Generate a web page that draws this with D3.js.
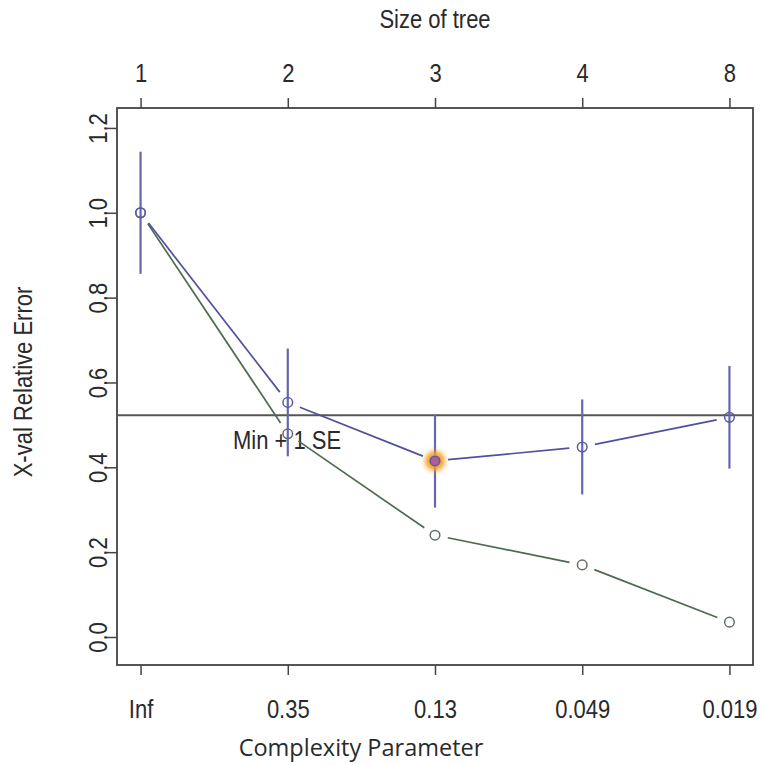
<!DOCTYPE html>
<html>
<head>
<meta charset="utf-8">
<script src="https://cdn.jsdelivr.net/npm/d3@7"></script>
<style>
  html, body { margin: 0; padding: 0; background: #fff; }
  svg { display: block; }
  text { font-family: "Liberation Sans", Arial, sans-serif; fill: #2a2a2a; }
</style>
</head>
<body>
<svg id="chart" width="762" height="765"></svg>
<script>
// ---- data ----
const cpLabels   = ["Inf", "0.35", "0.13", "0.049", "0.019"];
const treeSizes  = ["1", "2", "3", "4", "8"];
const xerror     = [1.0, 0.553, 0.415, 0.448, 0.518];
const xstd       = [0.144, 0.127, 0.110, 0.112, 0.121];
const relError   = [1.0, 0.479, 0.240, 0.170, 0.035];
const yTicks     = [0.0, 0.2, 0.4, 0.6, 0.8, 1.0, 1.2];
const minPlus1SE = 0.523;
const bestIndex  = 2;

(function () {
// ---- layout ----
const svg = d3.select("#chart");
const L = 117, R = 753, T = 108, B = 665;
const idx = d3.range(1, cpLabels.length + 1);
const x = d3.scaleLinear().domain([0.84, 5.16]).range([L, R]);
const y = d3.scaleLinear().domain([-0.066, 1.247]).range([B, T]);
const SX = "scale(0.88,1)";

const defs = svg.append("defs");
defs.append("filter").attr("id", "glow").attr("x", "-60%").attr("y", "-60%").attr("width", "220%").attr("height", "220%")
  .append("feGaussianBlur").attr("stdDeviation", 2.4);

// ---- axes ----
const fs = "25px";
const axB = svg.append("g").attr("transform", `translate(0,${B})`)
  .call(d3.axisBottom(x).tickValues(idx).tickFormat((d, i) => cpLabels[i]).tickSize(10).tickSizeOuter(0));
axB.select(".domain").remove();
axB.selectAll("line").attr("stroke", "#444").attr("stroke-width", 1.5);
axB.selectAll("text").attr("y", 0).attr("dy", 0).attr("transform", `translate(0,53) ${SX}`)
  .style("font-size", fs).attr("fill", "#2a2a2a");

const axT = svg.append("g").attr("transform", `translate(0,${T})`)
  .call(d3.axisTop(x).tickValues(idx).tickFormat((d, i) => treeSizes[i]).tickSize(10).tickSizeOuter(0));
axT.select(".domain").remove();
axT.selectAll("line").attr("stroke", "#444").attr("stroke-width", 1.5);
axT.selectAll("text").attr("y", 0).attr("dy", 0).attr("transform", `translate(0,-26) ${SX}`)
  .style("font-size", fs).attr("fill", "#2a2a2a");

const axL = svg.append("g").attr("transform", `translate(${L},0)`)
  .call(d3.axisLeft(y).tickValues(yTicks).tickFormat(d3.format(".1f")).tickSize(10).tickSizeOuter(0));
axL.select(".domain").remove();
axL.selectAll("line").attr("stroke", "#444").attr("stroke-width", 1.5);
axL.selectAll("text")
  .attr("x", null).attr("dy", 0)
  .attr("text-anchor", "middle")
  .attr("transform", `translate(-10,0) rotate(-90) ${SX}`)
  .style("font-size", fs).attr("fill", "#2a2a2a");

// box
svg.append("rect").attr("x", L).attr("y", T).attr("width", R - L).attr("height", B - T)
  .attr("fill", "none").attr("stroke", "#444").attr("stroke-width", 1.8);

// titles
svg.append("text").attr("transform", `translate(${(L + R) / 2},28) ${SX}`).attr("text-anchor", "middle")
  .style("font-size", fs).text("Size of tree");
svg.append("text").attr("x", 361).attr("y", 756).attr("text-anchor", "middle")
  .style("font-family", "'Open Sans', 'Noto Sans', sans-serif").style("font-size", "23.5px").attr("fill", "#222")
  .text("Complexity Parameter");
svg.append("text").attr("transform", `translate(32,382) rotate(-90) ${SX}`).attr("text-anchor", "middle")
  .style("font-size", fs).text("X-val Relative Error");

// ---- min + 1 SE line ----
svg.append("line").attr("x1", L).attr("x2", R).attr("y1", y(minPlus1SE)).attr("y2", y(minPlus1SE))
  .attr("stroke", "#555").attr("stroke-width", 2);
svg.append("text").attr("transform", `translate(233,449) ${SX}`).style("font-size", fs).attr("fill", "#333").text("Min + 1 SE");

// ---- lines with gaps (type "b") ----
function gapped(values, color) {
  const g = svg.append("g");
  for (let i = 0; i < values.length - 1; i++) {
    const x0 = x(i + 1), y0 = y(values[i]), x1 = x(i + 2), y1 = y(values[i + 1]);
    const len = Math.hypot(x1 - x0, y1 - y0), gap = 13;
    const ux = (x1 - x0) / len, uy = (y1 - y0) / len;
    g.append("line")
      .attr("x1", x0 + ux * gap).attr("y1", y0 + uy * gap)
      .attr("x2", x1 - ux * gap).attr("y2", y1 - uy * gap)
      .attr("stroke", color).attr("stroke-width", 1.7);
  }
}
gapped(relError, "#4e6b50");
gapped(xerror, "#50509c");

// error bars
svg.append("g").selectAll("line").data(xerror).join("line")
  .attr("x1", (d, i) => x(i + 1)).attr("x2", (d, i) => x(i + 1))
  .attr("y1", (d, i) => y(d - xstd[i])).attr("y2", (d, i) => y(d + xstd[i]))
  .attr("stroke", "#6666b0").attr("stroke-width", 2.2);

// highlight best
svg.append("circle").attr("cx", x(bestIndex + 1)).attr("cy", y(xerror[bestIndex])).attr("r", 10)
  .attr("fill", "#f0a020").attr("filter", "url(#glow)");

// points
svg.append("g").selectAll("circle").data(relError).join("circle")
  .attr("cx", (d, i) => x(i + 1)).attr("cy", d => y(d)).attr("r", 4.8)
  .attr("fill", "none").attr("stroke", "#5f6f62").attr("stroke-width", 1.5);
svg.append("g").selectAll("circle").data(xerror).join("circle")
  .attr("cx", (d, i) => x(i + 1)).attr("cy", d => y(d)).attr("r", 4.8)
  .attr("fill", (d, i) => i === bestIndex ? "#b35a9a" : "none")
  .attr("stroke", "#5a5aaa").attr("stroke-width", 1.5);
})();
</script>
</body>
</html>
